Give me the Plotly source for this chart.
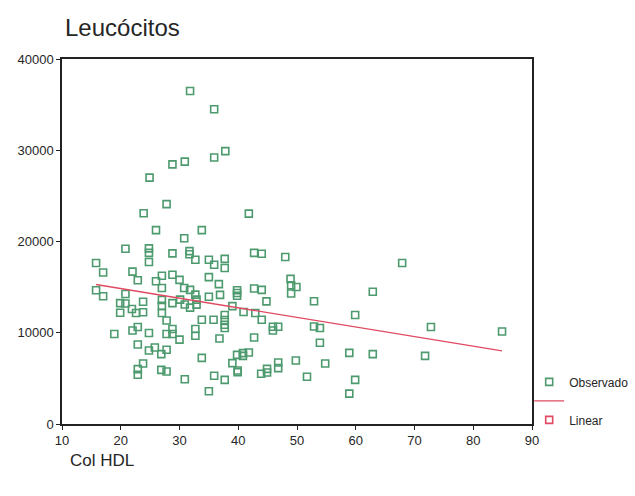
import numpy as np
import plotly.graph_objects as go

# Col HDL (x) and Leucócitos (y) observations
col_hdl = [
    31.8, 35.9, 37.8, 35.9, 30.9, 28.8, 24.9, 27.8, 23.9, 41.8,
    26.0, 33.8, 30.8, 20.8, 24.8, 31.7, 24.8, 28.8, 31.7, 42.7,
    44.0, 48.0, 37.7, 32.7, 35.0, 24.8, 15.8, 67.9, 35.9, 37.7,
    17.0, 22.0, 28.8, 27.0, 35.0, 48.9, 22.9, 30.0, 26.0, 36.7,
    49.0, 49.9, 27.0, 30.8, 42.7, 15.8, 31.8, 39.8, 39.8, 39.8,
    44.0, 62.9, 49.0, 20.8, 32.7, 36.9, 35.0, 17.0, 19.9, 20.8,
    23.8, 27.0, 28.8, 30.1, 30.9, 32.9, 32.9, 31.8, 44.8, 52.9,
    39.0, 27.0, 27.0, 21.9, 19.9, 22.6, 23.8, 40.9, 42.9, 37.7,
    37.7, 37.7, 37.7, 33.8, 35.8, 44.0, 27.8, 59.9, 45.9, 46.8,
    45.9, 52.9, 53.9, 72.8, 84.9, 32.7, 32.7, 22.9, 22.0, 18.9,
    24.8, 27.8, 28.8, 28.8, 30.0, 36.8, 42.7, 53.9, 22.9, 24.8,
    25.8, 26.9, 27.8, 58.9, 62.9, 71.8, 39.8, 40.8, 41.8, 40.8,
    33.8, 49.8, 46.8, 46.8, 39.0, 54.8, 23.8, 22.9, 22.9, 26.9,
    27.8, 39.9, 39.9, 43.9, 44.9, 44.9, 51.7, 30.9, 35.9, 37.7,
    59.9, 35.0, 58.9,
]
leucocitos = [
    36500, 34500, 29900, 29200, 28750, 28450, 27000, 24100, 23100, 23050,
    21250, 21250, 20350, 19200, 19250, 18950, 18750, 18700, 18600, 18750,
    18650, 18300, 18100, 18000, 18000, 17750, 17650, 17650, 17450, 17100,
    16600, 16700, 16350, 16250, 16100, 15900, 15750, 15800, 15650, 15330,
    15200, 15020, 14900, 14900, 14850, 14650, 14700, 14650, 14350, 14050,
    14700, 14500, 14300, 14250, 14180, 14150, 13950, 14000, 13250, 13200,
    13400, 13600, 13250, 13630, 13100, 13630, 13080, 12750, 13440, 13460,
    12920, 12950, 12160, 12600, 12200, 12160, 12250, 12270, 12160, 11950,
    11400, 10880, 10520, 11430, 11430, 11430, 11350, 11950, 10650, 10650,
    10250, 10690, 10520, 10630, 10140, 10410, 9670, 10630, 10250, 9860,
    9970, 9860, 10410, 9860, 9250, 9370, 9480, 8900, 8720, 8060,
    8390, 7660, 8130, 7800, 7660, 7470, 7580, 7770, 7840, 7470,
    7250, 6960, 6740, 6120, 6670, 6630, 6630, 6010, 5390, 5930,
    5750, 5860, 5680, 5500, 5640, 6040, 5180, 4910, 5280, 4840,
    4840, 3590, 3330,
]

x_ticks = [10, 20, 30, 40, 50, 60, 70, 80, 90]
y_ticks = [0, 10000, 20000, 30000, 40000]

GREEN = "#4c9a6e"
RED = "#e04a62"
TEXT = "#262626"
FONT = "Liberation Sans, Arial, sans-serif"

# least-squares linear fit over the observed range
xa = np.array(col_hdl, dtype=float)
ya = np.array(leucocitos, dtype=float)
slope, intercept = np.polyfit(xa, ya, 1)
fit_x = np.array([xa.min(), xa.max()])
fit_y = intercept + slope * fit_x

fig = go.Figure()
fig.add_trace(go.Scatter(
    x=col_hdl, y=leucocitos, mode="markers", name="Observado",
    marker=dict(symbol="square-open", size=7, color=GREEN,
                line=dict(width=1.6, color=GREEN)),
))
fig.add_trace(go.Scatter(
    x=fit_x, y=fit_y, mode="lines", name=" ",
    line=dict(color=RED, width=1.4),
))
fig.add_trace(go.Scatter(
    x=[None], y=[None], mode="markers", name="Linear",
    marker=dict(symbol="square-open", size=7, color=RED,
                line=dict(width=1.6, color=RED)),
))

axis_common = dict(
    showline=True, linecolor="#222", linewidth=1.5, mirror=True,
    showgrid=False, zeroline=False, ticks="outside", ticklen=4,
    tickwidth=1.2, tickcolor="#222",
    tickfont=dict(family=FONT, size=13, color=TEXT),
)

fig.update_layout(
    width=635, height=496,
    margin=dict(l=62, r=103, t=59, b=72, autoexpand=False),
    paper_bgcolor="white", plot_bgcolor="white",
    xaxis=dict(range=[10, 90], tickvals=x_ticks, **axis_common),
    yaxis=dict(range=[0, 40000], tickvals=y_ticks,
               ticktext=[str(v) for v in y_ticks], **axis_common),
    legend=dict(
        x=0.994, xanchor="left", y=0.155, yanchor="top",
        font=dict(family=FONT, size=12, color=TEXT),
        bgcolor="rgba(0,0,0,0)", tracegroupgap=0, itemwidth=30,
    ),
    annotations=[
        dict(text="Leucócitos", xref="paper", yref="paper",
             x=-0.0, y=1.0, xanchor="left", yanchor="bottom",
             yshift=16, xshift=1, showarrow=False,
             font=dict(family=FONT, size=24, color=TEXT)),
        dict(text="Col HDL", xref="paper", yref="paper",
             x=0.0, y=0.0, xanchor="left", yanchor="top",
             yshift=-25, xshift=6, showarrow=False,
             font=dict(family=FONT, size=17, color=TEXT)),
    ],
)

fig.write_html("out.html")
